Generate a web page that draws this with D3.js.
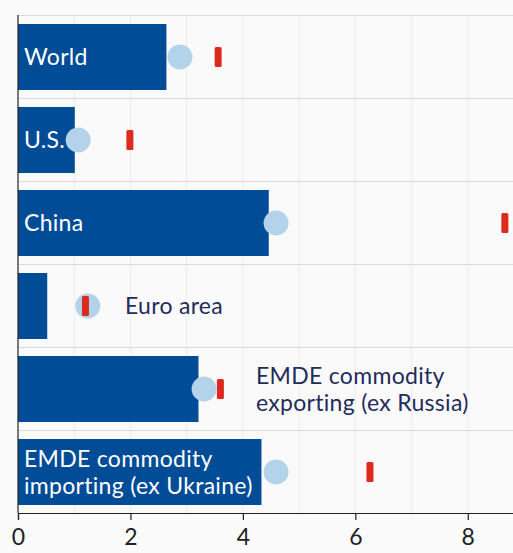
<!DOCTYPE html>
<html>
<head>
<meta charset="utf-8">
<script src="https://cdn.jsdelivr.net/npm/d3@7"></script>
<style>
  html, body { margin: 0; padding: 0; background: #fafafa; }
  svg { display: block; }
</style>
</head>
<body>
<svg id="chart" width="513" height="553"></svg>
<script>
// Growth by economy: bar = first value, circle = second, red tick = third
const categories = ["World", "U.S.", "China", "Euro area", "EMDE commodity exporting (ex Russia)", "EMDE commodity importing (ex Ukraine)"];
const labelLines = [["World"], ["U.S."], ["China"], ["Euro area"], ["EMDE commodity", "exporting (ex Russia)"], ["EMDE commodity", "importing (ex Ukraine)"]];
const labelInside = [true, true, true, false, false, true];
const barValues = [2.64, 1.01, 4.46, 0.52, 3.21, 4.33];
const circleValues = [2.88, 1.07, 4.59, 1.24, 3.31, 4.59];
const markerValues = [3.56, 1.99, 8.66, 1.20, 3.60, 6.26];
const xTicks = [0, 2, 4, 6, 8];

const svg = d3.select("#chart");
const font = "Lato, 'Noto Sans', sans-serif";

const x = d3.scaleLinear().domain([0, 9]).range([18, 524]);
const y = d3.scaleBand().domain(categories).range([15, 513]).paddingInner(0).paddingOuter(0);

// Vertical grid at every unit
svg.append("g").selectAll("line")
  .data(d3.range(1, 10))
  .join("line")
  .attr("x1", d => x(d)).attr("x2", d => x(d))
  .attr("y1", 15).attr("y2", 513)
  .attr("stroke", "#ececec").attr("stroke-width", 1);

// Horizontal separators between categories
svg.append("g").selectAll("line")
  .data(categories)
  .join("line")
  .attr("x1", x(0)).attr("x2", 513)
  .attr("y1", d => y(d) + 0.5).attr("y2", d => y(d) + 0.5)
  .attr("stroke", "#d9d9d9").attr("stroke-width", 1.2);

const barPad = 9;
const barH = y.bandwidth() - 17;

// Bars
svg.append("g").selectAll("rect")
  .data(categories)
  .join("rect")
  .attr("x", x(0))
  .attr("y", d => y(d) + barPad)
  .attr("width", (d, i) => x(barValues[i]) - x(0))
  .attr("height", barH)
  .attr("fill", "#004c97");

// Circles
svg.append("g").selectAll("circle")
  .data(categories)
  .join("circle")
  .attr("cx", (d, i) => x(circleValues[i]))
  .attr("cy", d => y(d) + barPad + barH / 2)
  .attr("r", 12.5)
  .attr("fill", "#b3d3ea");

// Red markers
svg.append("g").selectAll("rect")
  .data(categories)
  .join("rect")
  .attr("x", (d, i) => x(markerValues[i]) - 3.5)
  .attr("y", d => y(d) + barPad + barH / 2 - 10)
  .attr("width", 7)
  .attr("height", 20)
  .attr("rx", 1.5)
  .attr("fill", "#dc2a1e");

// Category labels
const labelX = [24, 24, 24, 125, 256, 24];
const lab = svg.append("g").selectAll("text")
  .data(categories)
  .join("text")
  .attr("x", (d, i) => labelX[i])
  .attr("y", d => y(d) + barPad + barH / 2)
  .attr("font-family", font)
  .attr("font-size", 23)
  .attr("letter-spacing", 0.3)
  .attr("fill", (d, i) => labelInside[i] ? "#ffffff" : "#1f2d5c");
lab.each(function(d, i) {
  const lines = labelLines[i];
  const lh = 27;
  const t = d3.select(this);
  lines.forEach((ln, k) => {
    t.append("tspan")
      .attr("x", labelX[i])
      .attr("dy", k === 0 ? ((-(lines.length - 1) * lh / 2) + 8) : lh)
      .text(ln);
  });
});

// Y axis line
svg.append("line")
  .attr("x1", x(0)).attr("x2", x(0))
  .attr("y1", 15).attr("y2", 513)
  .attr("stroke", "#222").attr("stroke-width", 1.2);

// X axis
const xAxis = svg.append("g")
  .attr("transform", "translate(0,513)")
  .call(d3.axisBottom(x).tickValues(xTicks).tickSize(7).tickPadding(9).tickFormat(d3.format("d")));
xAxis.select(".domain").attr("stroke", "#222").attr("stroke-width", 1.2);
xAxis.selectAll(".tick line").attr("stroke", "#222").attr("stroke-width", 1.2);
xAxis.selectAll("text").attr("font-family", font).attr("font-size", 23).attr("fill", "#222");
</script>
</body>
</html>
